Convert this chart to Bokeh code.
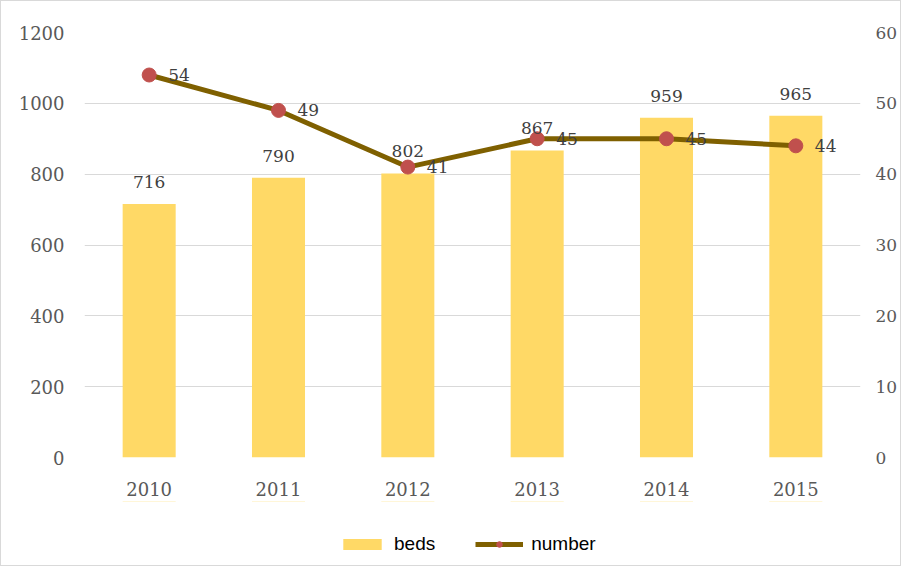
from bokeh.plotting import figure
from bokeh.models import ColumnDataSource, Range1d, LinearAxis, Legend, LegendItem, FixedTicker
from bokeh.layouts import column
from bokeh.embed import file_html
from bokeh.resources import INLINE
from bokeh.core.properties import value

years = ["2010", "2011", "2012", "2013", "2014", "2015"]
beds = [716, 790, 802, 867, 959, 965]
number = [54, 49, 41, 45, 45, 44]
left_ticks = [0, 200, 400, 600, 800, 1000, 1200]
right_ticks = [0, 10, 20, 30, 40, 50, 60]

BAR_COLOR = "#FFD966"
LINE_COLOR = "#7F6000"
DOT_COLOR = "#C0504D"

src = ColumnDataSource(dict(
    year=years, beds=beds, number=number,
    beds_lbl=[str(v) for v in beds], num_lbl=[str(v) for v in number],
))

p = figure(x_range=years, y_range=Range1d(0, 1200), width=899, height=500,
           output_backend="svg", toolbar_location=None,
           min_border_left=83, min_border_right=37, min_border_top=31, min_border_bottom=44)
p.extra_y_ranges = {"num": Range1d(0, 60)}
p.outline_line_color = None
p.background_fill_color = "white"
p.border_fill_color = "white"

serif = "DejaVu Serif"
tick_color = "#595959"

p.vbar(x="year", top="beds", width=0.41, source=src, color=BAR_COLOR, line_color=None)
p.line(x="year", y="number", source=src, y_range_name="num", line_color=LINE_COLOR, line_width=5)
p.scatter(x="year", y="number", source=src, y_range_name="num", size=14,
          fill_color=DOT_COLOR, line_color=DOT_COLOR)

p.text(x="year", y="beds", text="beds_lbl", source=src, text_align="center", text_baseline="bottom",
       y_offset=-16, text_font=value(serif), text_font_size="17px", text_color="#404040")
p.text(x="year", y="number", text="num_lbl", source=src, y_range_name="num", text_align="left",
       text_baseline="middle", x_offset=19, text_font=value(serif), text_font_size="17px",
       text_color="#404040")

p.yaxis.ticker = FixedTicker(ticks=left_ticks)
ax_r = LinearAxis(y_range_name="num", ticker=FixedTicker(ticks=right_ticks))
p.add_layout(ax_r, "right")

for ax in [p.xaxis[0], p.yaxis[0], ax_r]:
    ax.axis_line_color = None
    ax.major_tick_line_color = None
    ax.minor_tick_line_color = None
    ax.major_tick_out = 0
    ax.major_tick_in = 0
    ax.minor_tick_out = 0
    ax.minor_tick_in = 0
    ax.major_label_text_font = serif
    ax.major_label_text_font_size = "18px"
    ax.major_label_text_color = tick_color
ax_r.major_label_text_font_size = "17px"
p.yaxis[0].major_label_standoff = 20
ax_r.major_label_standoff = 15
p.xaxis[0].major_label_standoff = 24

p.xgrid.grid_line_color = None
p.ygrid.grid_line_color = "#d9d9d9"
p.ygrid.grid_line_width = 1

# legend strip below the chart (its renderers use the same data but lie outside its view)
lg = figure(width=899, height=64, output_backend="svg", toolbar_location=None,
            x_range=years, y_range=Range1d(-20, -19),
            x_axis_location=None, y_axis_location=None,
            min_border=0, outline_line_color=None)
lg.grid.visible = False
lg.background_fill_color = "white"
lg.border_fill_color = "white"
r_bar = lg.vbar(x="year", top="beds", width=0.41, source=src, color=BAR_COLOR, line_color=None)
r_line = lg.line(x="year", y="number", source=src, line_color=LINE_COLOR, line_width=5)
r_dot = lg.scatter(x="year", y="number", source=src, size=14, fill_color=DOT_COLOR, line_color=DOT_COLOR)

legend = Legend(items=[LegendItem(label="beds", renderers=[r_bar]),
                       LegendItem(label="number", renderers=[r_line, r_dot])],
                location=(254, 10), orientation="horizontal",
                glyph_width=48, glyph_height=14, label_standoff=8, spacing=40,
                padding=0, margin=0, border_line_color=None, background_fill_alpha=0,
                label_text_font="Liberation Sans", label_text_font_size="19px",
                label_text_color="black")
lg.add_layout(legend, "center")

layout = column(p, lg, spacing=0)
layout.styles = {"border": "1px solid #d9d9d9"}

open("out.html", "w").write(file_html(layout, INLINE))
